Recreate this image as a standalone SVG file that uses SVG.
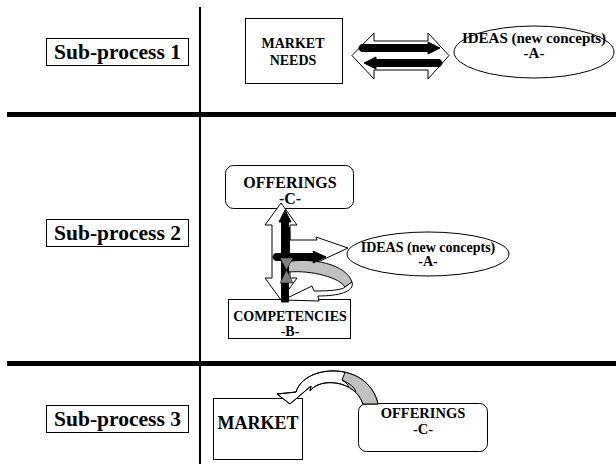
<svg xmlns="http://www.w3.org/2000/svg" width="616" height="464" viewBox="0 0 616 464">
<style>
text{font-family:"Liberation Serif","Times New Roman",serif;font-weight:bold;fill:#000;text-anchor:middle}
.box{fill:#fff;stroke:#000;stroke-width:1}
.lab{font-size:21.5px}
.w{fill:#fff;stroke:#000;stroke-width:1;stroke-linejoin:miter}
.k{fill:#000;stroke:#000;stroke-width:1}
.g{fill:#c0c0c0;stroke:#000;stroke-width:1}
.dg{fill:#808080;stroke:#000;stroke-width:0.5}
</style>
<defs>
<clipPath id="band3"><path d="M296,392 C304,364 368,360 378,404 L363,404 C355,380 320,377 310,391 Z"/></clipPath>
</defs>
<rect width="616" height="464" fill="#fff"/>
<g id="frame">
<line x1="200" y1="7" x2="200" y2="464" stroke="#000" stroke-width="2"/>
<line x1="7" y1="114.5" x2="616" y2="114.5" stroke="#000" stroke-width="5"/>
<line x1="7" y1="363.5" x2="616" y2="363.5" stroke="#000" stroke-width="5"/>
</g>
<g id="sub1"><rect class="box" x="46.5" y="38.5" width="142" height="27"/><text class="lab" x="117.5" y="59">Sub-process 1</text></g>
<g id="sub2"><rect class="box" x="46.5" y="219.5" width="142" height="27"/><text class="lab" x="117.5" y="240">Sub-process 2</text></g>
<g id="sub3"><rect class="box" x="46.5" y="405.5" width="142" height="27"/><text class="lab" x="117.5" y="426">Sub-process 3</text></g>

<g id="market-needs"><rect class="box" x="245.5" y="18.5" width="97" height="65"/><text x="293" y="48" font-size="14">MARKET</text><text x="293" y="65" font-size="14">NEEDS</text></g>
<g id="ideas1"><ellipse class="box" cx="534" cy="52" rx="80" ry="26"/><text x="534" y="43" font-size="15">IDEAS (new concepts)</text><text x="534" y="58" font-size="15">-A-</text></g>

<g id="offerings2"><rect class="box" x="225.5" y="165.5" width="128" height="43" rx="8"/><text x="290" y="188" font-size="16">OFFERINGS</text><text x="290" y="203.5" font-size="16">-C-</text></g>
<g id="ideas2"><ellipse class="box" cx="428" cy="254" rx="81" ry="22"/><text x="428" y="252" font-size="14">IDEAS (new concepts)</text><text x="428" y="266" font-size="14">-A-</text></g>
<g id="competencies"><rect class="box" x="228.5" y="299.5" width="122" height="39"/><text x="290" y="321" font-size="14">COMPETENCIES</text><text x="290" y="336" font-size="14">-B-</text></g>

<g id="market3"><rect class="box" x="213.5" y="398.5" width="89" height="61"/><text x="258" y="429" font-size="18">MARKET</text></g>
<g id="offerings3"><rect class="box" x="358.5" y="403.5" width="129" height="48" rx="8"/><text x="423" y="418" font-size="14.5">OFFERINGS</text><text x="423" y="434" font-size="14.5">-C-</text></g>

<g id="connectors">
<path class="w" d="M352,55.5 L374,33 L374,41 L428,41 L428,33 L449,55.5 L428,79 L428,70 L374,70 L374,79 Z"/>
<path class="k" d="M361,44.5 L428,44.5 L428,42 L440,48 L428,54 L428,51.5 L361,51.5 Q357,48 361,44.5 Z"/>
<path class="k" d="M364,63 L376,57 L376,59.5 L440,59.5 Q444,63 440,66.5 L376,66.5 L376,69 Z"/>

<path class="w" d="M281,203 L297,225 L290,225 L290,278 L297,278 L281,300 L265,278 L272,278 L272,225 L265,225 Z"/>
<path class="w" d="M289.5,227 L290,240 L317,240 L316,237 L348,248 L318,262 L318,258 L289.5,258 Z"/>
<path class="g" d="M285,262 C312,257 346,264 352,282 L345,287 C340,278 312,270 289,272 Z"/>
<path class="w" d="M352,282 C355,292 338,296 318,296 L319,301 L283,300 L312,286 L314,291 C330,291 342,290 345,287 Z"/>
<path class="k" d="M285,210 L291,222 L288.5,222 L288.5,302 L281.5,302 L281.5,222 L279,222 Z"/>
<path class="k" d="M275,253.5 L314,253.5 L313,251 L326,257 L313,263 L314,260.5 L275,260.5 Q271,257 275,253.5 Z"/>
<path class="dg" d="M280,258 L293,258 L286.5,270 Z M286.5,270 L280,283 L293,283 Z"/>

<path class="w" d="M296,392 C304,364 368,360 378,404 L363,404 C355,380 320,377 310,391 L311,386 L290,404 L277,394 Z"/>
<g clip-path="url(#band3)"><path class="g" d="M350,360 L400,360 L400,410 L352,410 Q354,385 342,380 Z" stroke="none"/></g>
<path d="M296,392 C304,364 368,360 378,404 L363,404 C355,380 320,377 310,391 L311,386 L290,404 L277,394 Z" fill="none" stroke="#000" stroke-width="1"/>
<path d="M342,380 Q354,385 356,392" fill="none" stroke="#000" stroke-width="1"/>
</g>
</svg>
